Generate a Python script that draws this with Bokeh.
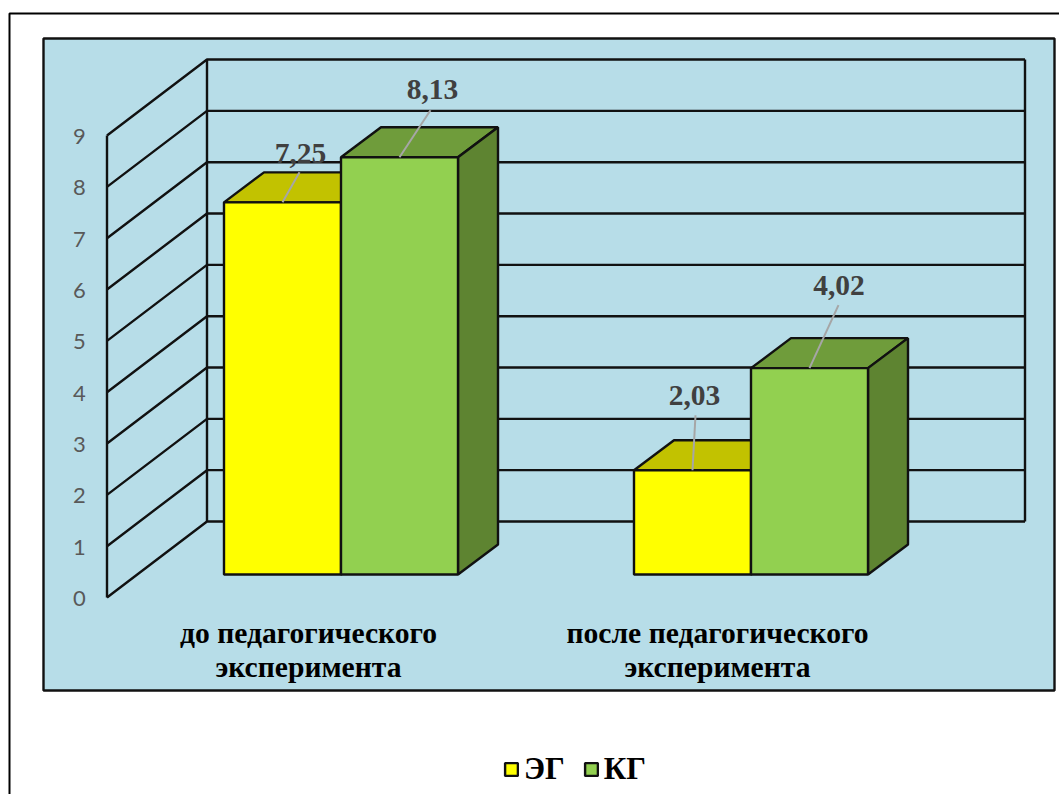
from bokeh.core.properties import value
from bokeh.embed import file_html
from bokeh.models import ColumnDataSource, Legend, LegendItem, Range1d
from bokeh.plotting import figure
from bokeh.resources import INLINE

# Chart data
group_lines = [["до педагогического", "эксперимента"], ["после педагогического", "эксперимента"]]
series_names = ["ЭГ", "КГ"]
eg_values = [7.25, 2.03]
kg_values = [8.13, 4.02]
tick_values = list(range(10))

# Page geometry, in pixels
W, H = 1059, 794
UNIT_PX = 51.33          # height of one value unit
BASE_PY = 574            # bar foot on the front plane
GROUP_PX = 410           # distance between the two groups
GROUP0_PX = 340.5        # centre of the first group
BAR_WIDTH = 117 / GROUP_PX
DEPTH_X = 40 / GROUP_PX  # receding offset of bar sides
DEPTH_Y = 30 / UNIT_PX
WALL_DY = 76 / UNIT_PX
LINE_W = 2.4

# Colours
PANEL = "#b7dde8"
EDGE = "#111111"
YELLOW = ("#ffff00", "#c2c200", "#a8a800")
GREEN = ("#92d050", "#6f9c3b", "#5e8431")

# Leader lines and value labels: pixel offsets from the bar's top front centre
EG_LEADER = [(17, -30), (3, -55)]
KG_LEADER = [(31, -47), (29, -63)]
EG_LABEL_DY = [-19, -20]
KG_LABEL_DY = [-21, -20]
EG_LABEL_DX = [1, -1]
KG_LABEL_DX = [2, 0.5]
CATEGORY_CENTERS_PX = [308, 717]


def data_x(px):
    return (px - GROUP0_PX) / GROUP_PX


def data_y(py):
    return (BASE_PY - py) / UNIT_PX


p = figure(width=W, height=H, output_backend="svg", toolbar_location=None,
           x_range=Range1d(data_x(0), data_x(W)), y_range=Range1d(data_y(H), data_y(0)),
           min_border=0, outline_line_color=None, background_fill_color="white",
           border_fill_color="white")
p.axis.visible = False
p.grid.visible = False

# Outer frame and coloured panel
p.line([data_x(9), data_x(9), data_x(W)], [data_y(H), data_y(13), data_y(13)],
       line_color="black", line_width=2)
p.quad(left=[data_x(43)], right=[data_x(1054)], top=[data_y(38)], bottom=[data_y(690)],
       fill_color=PANEL, line_color=EDGE, line_width=2.4)

# Walls of the 3D box: back gridlines, slanted side gridlines and the three uprights
left_x, back_x, right_x = data_x(106.5), data_x(206.5), data_x(1024.5)
floor_y = data_y(597)
for t in tick_values:
    front = floor_y + t
    p.line([left_x, back_x, right_x], [front, front + WALL_DY, front + WALL_DY],
           line_color=EDGE, line_width=LINE_W)
for x, y0 in ((left_x, floor_y), (back_x, floor_y + WALL_DY), (right_x, floor_y + WALL_DY)):
    p.line([x, x], [y0, y0 + tick_values[-1]], line_color=EDGE, line_width=LINE_W)

# Value axis labels on the left wall, set slightly below their gridline ends
p.text(x=[data_x(79)] * len(tick_values), y=[floor_y + t for t in tick_values],
       text=[str(t) for t in tick_values], text_font=value("Lato"), y_offset=1,
       text_font_size="22px", text_color="#595959", text_align="center",
       text_baseline="middle")


def draw_series(values, offset, colors):
    """Draw one series of boxes; returns the front-face renderer."""
    front, top, side = colors
    centers = [i + offset for i in range(len(values))]
    for cx, v in zip(centers, values):
        x0, x1 = cx - BAR_WIDTH / 2, cx + BAR_WIDTH / 2
        p.patch([x0, x0 + DEPTH_X, x1 + DEPTH_X, x1], [v, v + DEPTH_Y, v + DEPTH_Y, v],
                fill_color=top, line_color=EDGE, line_width=LINE_W)
        p.patch([x1, x1 + DEPTH_X, x1 + DEPTH_X, x1],
                [v, v + DEPTH_Y, DEPTH_Y, 0],
                fill_color=side, line_color=EDGE, line_width=LINE_W)
    src = ColumnDataSource(dict(x=centers, top=values))
    return p.vbar(x="x", top="top", bottom=0, width=BAR_WIDTH, source=src,
                  fill_color=front, line_color=EDGE, line_width=LINE_W), centers


eg_bar, eg_centers = draw_series(eg_values, -BAR_WIDTH / 2, YELLOW)
kg_bar, kg_centers = draw_series(kg_values, BAR_WIDTH / 2, GREEN)


def draw_labels(values, centers, leaders, label_dx, label_dy):
    for v, cx, (dx, dy), ldx, ldy in zip(values, centers, leaders, label_dx, label_dy):
        x1 = cx + dx / GROUP_PX
        y1 = v - dy / UNIT_PX
        p.line([cx, x1], [v, y1], line_color="#a6a6a6", line_width=2)
        p.text(x=[x1 + ldx / GROUP_PX], y=[y1 - ldy / UNIT_PX], text=[f"{v:.2f}".replace(".", ",")],
               text_font=value("Liberation Serif"), text_font_style="bold",
               text_font_size="29.5px", text_color="#404040", text_align="center",
               text_baseline="middle")


draw_labels(eg_values, eg_centers, EG_LEADER, EG_LABEL_DX, EG_LABEL_DY)
draw_labels(kg_values, kg_centers, KG_LEADER, KG_LABEL_DX, KG_LABEL_DY)

# Category labels, two lines each, below the boxes
for cx, lines in zip(CATEGORY_CENTERS_PX, group_lines):
    for py, line in zip((632, 666), lines):
        p.text(x=[data_x(cx)], y=[data_y(py)], text=[line],
               text_font=value("Liberation Serif"), text_font_style="bold",
               text_font_size="29.6px", text_color="black", text_align="center",
               text_baseline="middle")

legend = Legend(items=[LegendItem(label=series_names[0], renderers=[eg_bar]),
                       LegendItem(label=series_names[1], renderers=[kg_bar])],
                orientation="horizontal", location=(503, 7), background_fill_alpha=0,
                border_line_color=None, padding=0, margin=0, spacing=18,
                glyph_width=16, glyph_height=16, label_standoff=5,
                label_text_font="Liberation Serif", label_text_font_style="bold",
                label_text_font_size="31px", label_text_color="black")
p.add_layout(legend, "center")

open("out.html", "w").write(file_html(p, INLINE))
